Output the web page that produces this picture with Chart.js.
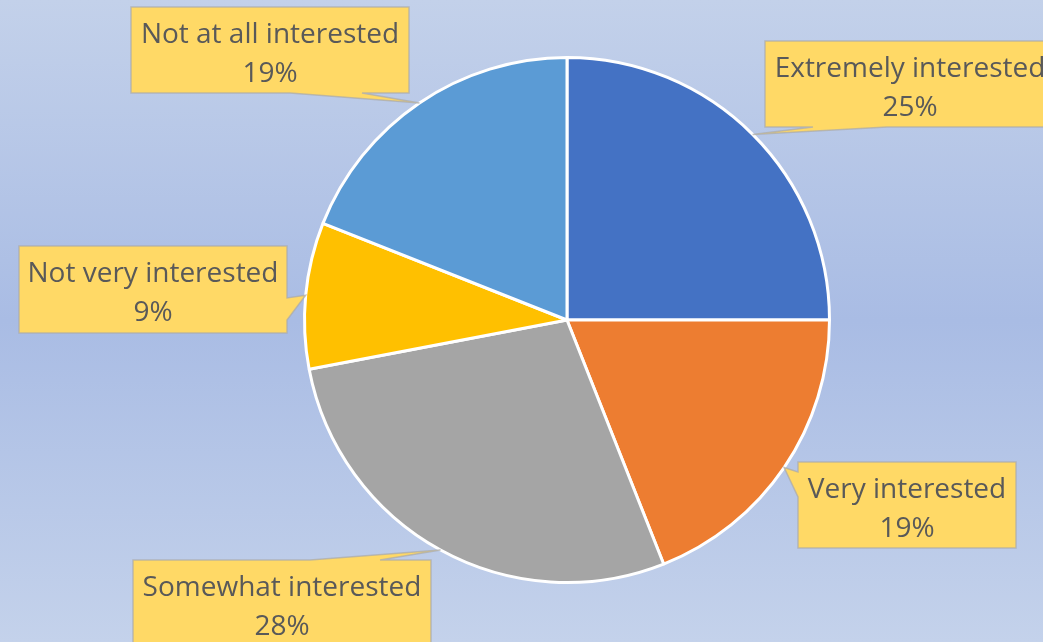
<!DOCTYPE html>
<html>
<head>
<meta charset="utf-8">
<script src="https://cdn.jsdelivr.net/npm/chart.js@4"></script>
<style>
  html, body { margin: 0; padding: 0; }
  body {
    width: 1043px; height: 642px; overflow: hidden;
    background: linear-gradient(to bottom, #c3d1ea 0%, #a9bce4 50%, #c4d2eb 100%);
  }
  canvas { display: block; }
</style>
</head>
<body>
<canvas id="pieChart" width="1043" height="642"></canvas>
<script>
const categories = [
  "Extremely interested",
  "Very interested",
  "Somewhat interested",
  "Not very interested",
  "Not at all interested"
]
const shares = [25, 19, 28, 9, 19]
const sliceColors = ["#4472c4", "#ed7d31", "#a5a5a5", "#ffc000", "#5b9bd5"]

// callout boxes: [x, y, w, h], side the pointer leaves from, pointer base range
const callouts = [
  { box: [765, 41, 290, 86], side: "bottom", base: [813, 887] },
  { box: [798, 462, 218, 86], side: "left", base: [472, 497] },
  { box: [133, 560, 298, 86], side: "top", base: [310, 380] },
  { box: [19, 246, 268, 87], side: "right", base: [298, 320] },
  { box: [131, 7, 278, 86], side: "bottom", base: [290, 362] }
]

// ===============================
// CALLOUT LABELS
// ===============================
const calloutPlugin = {
  id: "callouts",
  afterDatasetsDraw(chart) {
    const ctx = chart.ctx
    const meta = chart.getDatasetMeta(0)
    const total = shares.reduce((a, b) => a + b, 0)

    meta.data.forEach((arc, i) => {
      const p = arc.getProps(["x", "y", "startAngle", "endAngle", "outerRadius"], true)
      const mid = (p.startAngle + p.endAngle) / 2
      const tx = p.x + Math.cos(mid) * p.outerRadius
      const ty = p.y + Math.sin(mid) * p.outerRadius

      const c = callouts[i]
      const [x, y, w, h] = c.box
      const [a, b] = c.base

      ctx.save()
      ctx.beginPath()
      if (c.side === "bottom") {
        ctx.moveTo(x, y); ctx.lineTo(x + w, y); ctx.lineTo(x + w, y + h)
        ctx.lineTo(b, y + h); ctx.lineTo(tx, ty); ctx.lineTo(a, y + h)
        ctx.lineTo(x, y + h)
      } else if (c.side === "top") {
        ctx.moveTo(x, y); ctx.lineTo(a, y); ctx.lineTo(tx, ty); ctx.lineTo(b, y)
        ctx.lineTo(x + w, y); ctx.lineTo(x + w, y + h); ctx.lineTo(x, y + h)
      } else if (c.side === "right") {
        ctx.moveTo(x, y); ctx.lineTo(x + w, y); ctx.lineTo(x + w, a)
        ctx.lineTo(tx, ty); ctx.lineTo(x + w, b); ctx.lineTo(x + w, y + h)
        ctx.lineTo(x, y + h)
      } else {
        ctx.moveTo(x, y); ctx.lineTo(x + w, y); ctx.lineTo(x + w, y + h)
        ctx.lineTo(x, y + h); ctx.lineTo(x, b); ctx.lineTo(tx, ty); ctx.lineTo(x, a)
      }
      ctx.closePath()
      ctx.fillStyle = "#ffd966"
      ctx.fill()
      ctx.strokeStyle = "rgba(170,170,170,0.7)"
      ctx.lineWidth = 1.5
      ctx.stroke()

      const pct = Math.round(shares[i] / total * 100) + "%"
      ctx.fillStyle = "#595959"
      ctx.font = "28px 'Open Sans', sans-serif"
      ctx.textAlign = "center"
      ctx.textBaseline = "alphabetic"
      const cx = x + w / 2
      ctx.fillText(categories[i], cx, y + 36)
      ctx.fillText(pct, cx, y + 75)
      ctx.restore()
    })
  }
}

// ===============================
// CREATE CHART
// ===============================
const ctx = document.getElementById("pieChart").getContext("2d")

new Chart(ctx, {
  type: "pie",
  data: {
    labels: categories,
    datasets: [{
      data: shares,
      backgroundColor: sliceColors,
      borderColor: "#ffffff",
      borderWidth: 3
    }]
  },
  options: {
    responsive: false,
    animation: false,
    layout: {
      padding: { top: 56, bottom: 58, left: 291, right: 200 }
    },
    plugins: {
      legend: { display: false },
      tooltip: { enabled: false }
    }
  },
  plugins: [calloutPlugin]
})
</script>
</body>
</html>
